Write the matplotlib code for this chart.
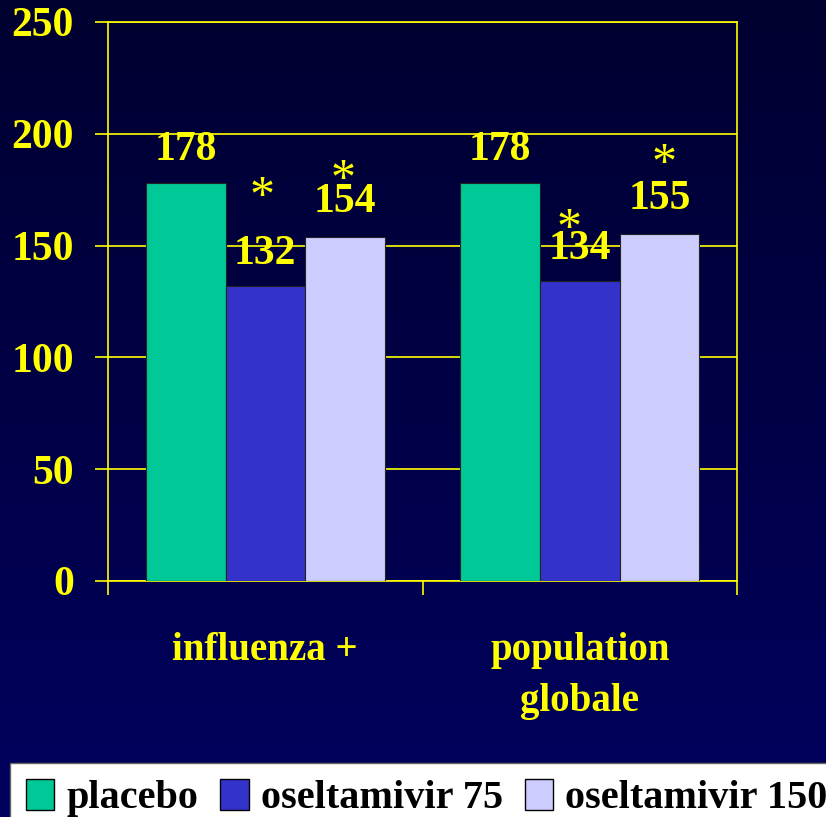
import numpy as np
import matplotlib.pyplot as plt
from matplotlib.patches import Patch
from matplotlib.colors import LinearSegmentedColormap

categories = ["influenza +", "population\nglobale"]
series_names = ["placebo", "oseltamivir 75", "oseltamivir 150"]
placebo = [178, 178]
osel75 = [132, 134]
osel150 = [154, 155]
# significance star: True where the value carries a "*"
stars75 = [True, True]
stars150 = [True, True]
yticks = [0, 50, 100, 150, 200, 250]

colors = ["#00C896", "#3333CC", "#CCCCFF"]
yellow = "#FFFF00"
serif = ["Liberation Serif", "DejaVu Serif"]

fig = plt.figure(figsize=(8.26, 8.17), dpi=100)

# dark blue gradient background
bg = fig.add_axes([0, 0, 1, 1], zorder=-10)
grad = np.linspace(0, 1, 256).reshape(-1, 1)
cmap = LinearSegmentedColormap.from_list("bg", ["#010030", "#00005E"])
bg.imshow(grad, aspect="auto", cmap=cmap, extent=[0, 1, 0, 1], origin="upper")
bg.axis("off")

ax = fig.add_axes([0.1308, 0.2889, 0.7615, 0.6842])
ax.set_facecolor("none")

x = np.arange(len(categories))
w = 0.253
all_series = [placebo, osel75, osel150]
for i, vals in enumerate(all_series):
    ax.bar(x + (i - 1) * w, vals, width=w, color=colors[i],
           edgecolor="#222222", linewidth=0.8, zorder=3)

ax.set_xlim(-0.5, len(categories) - 0.5)
ax.set_ylim(0, 250)
ax.set_yticks(yticks)
ax.set_yticklabels([str(t) for t in yticks], fontsize=30, fontweight="bold",
                   family=serif, color=yellow)
ax.yaxis.grid(True, color=yellow, linewidth=1.2, zorder=0)
ax.set_axisbelow(True)
ax.tick_params(axis="y", length=9.5, width=1.2, color=yellow, pad=15)

ax.set_xticks([-0.5, 0.5, 1.5])
ax.set_xticklabels([])
ax.tick_params(axis="x", length=10, width=1.2, color=yellow)
for i, c in enumerate(categories):
    ax.text(x[i], -0.092, c, transform=ax.get_xaxis_transform(), ha="center",
            va="top", fontsize=28, fontweight="bold", family=serif,
            color=yellow, linespacing=1.5)

for s in ax.spines.values():
    s.set_color(yellow)
    s.set_linewidth(1.2)

lab_kw = dict(ha="center", va="center", fontsize=30, fontweight="bold",
              family=serif, color=yellow, textcoords="offset pixels", zorder=5)
for i in range(len(categories)):
    ax.annotate(str(placebo[i]), (x[i] - w, placebo[i]), xytext=(0, 33), **lab_kw)
    ax.annotate(str(osel75[i]), (x[i], osel75[i]), xytext=(0, 32), **lab_kw)
    ax.annotate(str(osel150[i]), (x[i] + w, osel150[i]), xytext=(0, 35), **lab_kw)

star_kw = dict(ha="center", va="center", fontsize=36, fontweight="normal",
               family=serif, color=yellow, textcoords="offset pixels", zorder=5)
star75_off = [(-3, 88), (-11, 52)]
star150_off = [(-2, 56), (5, 70)]
for i in range(len(categories)):
    if stars75[i]:
        ax.annotate("*", (x[i], osel75[i]), xytext=star75_off[i], **star_kw)
    if stars150[i]:
        ax.annotate("*", (x[i] + w, osel150[i]), xytext=star150_off[i], **star_kw)

handles = [Patch(facecolor=colors[i], edgecolor="black", linewidth=1)
           for i in range(3)]
leg = fig.legend(handles, series_names, loc="lower left",
                 bbox_to_anchor=(0.012, -0.02),
                 ncol=3, frameon=True, fancybox=False,
                 prop={"family": serif, "weight": "bold", "size": 29},
                 handlelength=0.7, handleheight=0.8, handletextpad=0.3,
                 columnspacing=0.55, borderaxespad=0, borderpad=0.4)
leg.get_frame().set_facecolor("white")
leg.get_frame().set_edgecolor("#666666")
leg.get_frame().set_alpha(1)

fig.savefig("out.png", dpi=100, facecolor="#000040")
